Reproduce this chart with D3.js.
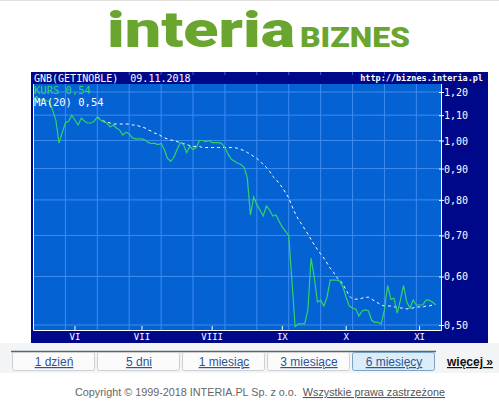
<!DOCTYPE html>
<html>
<head>
<meta charset="utf-8">
<script src="https://cdn.jsdelivr.net/npm/d3@7"></script>
<style>
  body { margin: 0; background: #fff; }
  svg { display: block; }
</style>
</head>
<body>
<div id="chart"></div>
<script>
// trading-day values, 6 months to 09.11.2018
var kurs = [
  1.17, 1.18, 1.16, 1.17, 1.16, 1.16, 1.12, 1.08, 0.99, 1.03,
  1.068, 1.075, 1.10, 1.08, 1.06, 1.088, 1.075, 1.068, 1.068, 1.075,
  1.092, 1.08, 1.072, 1.068, 1.052, 1.06, 1.048, 1.04, 1.021, 1.032,
  1.025, 1.01, 1.006, 1.006, 1.006, 1.002, 0.992, 0.989, 0.989, 0.985,
  0.989, 0.967, 0.935, 0.925, 0.939, 0.967, 0.992, 0.985, 0.956, 0.978,
  0.967, 0.974, 1.0, 1.0, 0.996, 1.0, 0.992, 0.992, 0.992, 0.989,
  0.974, 0.95, 0.932, 0.925, 0.918, 0.914, 0.904, 0.87, 0.756, 0.809,
  0.786, 0.77, 0.753, 0.782, 0.77, 0.753, 0.756, 0.738, 0.722, 0.711,
  0.70, 0.59, 0.497, 0.502, 0.502, 0.502, 0.529, 0.643, 0.598, 0.545,
  0.549, 0.537, 0.555, 0.592, 0.592, 0.592, 0.59, 0.577, 0.555, 0.537,
  0.533, 0.531, 0.517, 0.527, 0.529, 0.527, 0.509, 0.505, 0.505, 0.502,
  0.529, 0.58, 0.551, 0.553, 0.523, 0.549, 0.58, 0.545, 0.533, 0.549,
  0.539, 0.539, 0.539, 0.549, 0.549, 0.545, 0.54
]
var maStart = 20
var ma20 = [
  1.092, 1.084, 1.076, 1.072, 1.068, 1.064, 1.064, 1.064, 1.064, 1.064,
  1.064, 1.06, 1.06, 1.056, 1.052, 1.048, 1.04, 1.036, 1.028, 1.025,
  1.017, 1.010, 1.006, 1.002, 1.0, 0.996, 0.992, 0.989, 0.985, 0.981,
  0.978, 0.978, 0.978, 0.974, 0.974, 0.974, 0.974, 0.974, 0.974, 0.974,
  0.974, 0.974, 0.974, 0.974, 0.971, 0.967, 0.963, 0.956, 0.950, 0.942,
  0.935, 0.925, 0.914, 0.904, 0.891, 0.874, 0.864, 0.851, 0.838, 0.822,
  0.806, 0.782, 0.761, 0.744, 0.731, 0.717, 0.704, 0.689, 0.676, 0.664,
  0.653, 0.643, 0.631, 0.619, 0.610, 0.598, 0.592, 0.583, 0.570, 0.558,
  0.551, 0.551, 0.551, 0.553, 0.555, 0.555, 0.551, 0.547, 0.543, 0.539,
  0.537, 0.537, 0.537, 0.535, 0.535, 0.533, 0.533, 0.531, 0.533, 0.533,
  0.535, 0.535, 0.535, 0.537, 0.537, 0.539, 0.54
]
var monthLabels = ["VI", "VII", "VIII", "IX", "X", "XI"]
var monthIndex = [13, 34, 56, 78, 98, 121]
var yTicks = [0.5, 0.6, 0.7, 0.8, 0.9, 1.0, 1.1, 1.2]
var tabs = ["1 dzień", "5 dni", "1 miesiąc", "3 miesiące", "6 miesięcy"]

var width = 499
var height = 412
var mono = "DejaVu Sans Mono, monospace"
var sans = "Liberation Sans, Arial, sans-serif"

var svg = d3.select("#chart").append("svg")
  .attr("width", width).attr("height", height)

// logo
svg.append("line").attr("x1", 0).attr("x2", width).attr("y1", 0.5).attr("y2", 0.5)
  .attr("stroke", "#e2e2e2")
svg.append("text").attr("x", 107).attr("y", 47)
  .attr("textLength", 188).attr("lengthAdjust", "spacingAndGlyphs")
  .style("font-family", "Roboto, sans-serif").style("font-weight", 900)
  .style("font-size", "50px").style("fill", "#69a52f")
  .text("interia")
svg.append("text").attr("x", 300).attr("y", 47)
  .attr("textLength", 110).attr("lengthAdjust", "spacingAndGlyphs")
  .style("font-family", "Roboto, sans-serif").style("font-weight", 900)
  .style("font-size", "27px").style("fill", "#69a52f")
  .text("BIZNES")

// chart frame
var plot = {left: 33, right: 441, top: 84, bottom: 330}

svg.append("rect").attr("x", 31).attr("y", 72).attr("width", 457).attr("height", 271)
  .attr("fill", "#00088a")
svg.append("rect").attr("x", plot.left).attr("y", plot.top)
  .attr("width", plot.right - plot.left).attr("height", plot.bottom - plot.top)
  .attr("fill", "#0562d2")

var x = d3.scaleLinear().domain([0, 126]).range([33.5, 435.5])
var y = d3.scaleLog().domain([0.5, 1.2]).range([325, 92])

// grid
var gridX = d3.range(10, 126, 10)
svg.append("g").selectAll("line").data(gridX).enter().append("line")
  .attr("x1", function(d) { return x(d) }).attr("x2", function(d) { return x(d) })
  .attr("y1", plot.top).attr("y2", plot.bottom)
  .attr("stroke", "#3d8cf2").attr("stroke-width", 1)
svg.append("g").selectAll("line").data(gridX).enter().append("line")
  .attr("x1", function(d) { return x(d) }).attr("x2", function(d) { return x(d) })
  .attr("y1", 72).attr("y2", 75)
  .attr("stroke", "#3d60d8").attr("stroke-width", 1)
svg.append("g").selectAll("line").data(yTicks).enter().append("line")
  .attr("x1", plot.left).attr("x2", plot.right)
  .attr("y1", function(d) { return y(d) }).attr("y2", function(d) { return y(d) })
  .attr("stroke", "#3d8cf2").attr("stroke-width", 1)

// plot border
svg.append("path")
  .attr("d", "M" + (plot.left + 0.5) + "," + plot.top + "V" + (plot.bottom + 0.5) +
    "H" + (plot.right + 0.5) + "V" + plot.top)
  .attr("fill", "none").attr("stroke", "#ffffff").attr("stroke-width", 1)

// month ticks
svg.append("g").selectAll("line").data(monthIndex).enter().append("line")
  .attr("x1", function(d) { return x(d) }).attr("x2", function(d) { return x(d) })
  .attr("y1", 326).attr("y2", 330)
  .attr("stroke", "#ffffff")
svg.append("g").selectAll("text").data(monthLabels).enter().append("text")
  .attr("x", function(d, i) { return x(monthIndex[i]) })
  .attr("y", 340)
  .attr("text-anchor", "middle")
  .style("font-family", mono).style("font-size", "9px").style("fill", "#ffffff")
  .text(function(d) { return d })

// y ticks on the right
svg.append("g").selectAll("line").data(yTicks).enter().append("line")
  .attr("x1", plot.right - 2).attr("x2", plot.right + 3)
  .attr("y1", function(d) { return y(d) + 0.5 }).attr("y2", function(d) { return y(d) + 0.5 })
  .attr("stroke", "#ffffff")
svg.append("g").selectAll("text").data(yTicks).enter().append("text")
  .attr("x", 444).attr("y", function(d) { return y(d) + 4 })
  .style("font-family", mono).style("font-size", "10px").style("fill", "#ffffff")
  .text(function(d) { return d3.format(".2f")(d).replace(".", ",") })

// lines
var kursLine = d3.line()
  .x(function(d, i) { return x(i) })
  .y(function(d) { return y(d) })
var maLine = d3.line()
  .x(function(d, i) { return x(i + maStart) })
  .y(function(d) { return y(d) })

svg.append("path").datum(ma20).attr("d", maLine)
  .attr("fill", "none").attr("stroke", "#ffffff").attr("stroke-width", 1)
  .attr("stroke-dasharray", "3,3")
svg.append("path").datum(kurs).attr("d", kursLine)
  .attr("fill", "none").attr("stroke", "#2fd36a").attr("stroke-width", 1.2)

// header texts
svg.append("text").attr("x", 34).attr("y", 82)
  .style("font-family", mono).style("font-size", "10px").style("fill", "#ffffff")
  .style("white-space", "pre").attr("xml:space", "preserve")
  .text("GNB(GETINOBLE)  09.11.2018")
svg.append("text").attr("x", 483).attr("y", 81).attr("text-anchor", "end")
  .style("font-family", mono).style("font-size", "8.5px").style("font-weight", "bold")
  .style("fill", "#ffffff")
  .text("http://biznes.interia.pl")
svg.append("text").attr("x", 34).attr("y", 94)
  .style("font-family", mono).style("font-size", "10.5px").style("fill", "#2fd36a")
  .text("KURS " + d3.format(".2f")(kurs[kurs.length - 1]).replace(".", ","))
svg.append("text").attr("x", 34).attr("y", 106)
  .style("font-family", mono).style("font-size", "10.5px").style("fill", "#ffffff")
  .text("MA(20) " + d3.format(".2f")(ma20[ma20.length - 1]).replace(".", ","))

// tabs
svg.append("rect").attr("x", 0).attr("y", 343).attr("width", width).attr("height", 30)
  .attr("fill", "#f3f4f5")
svg.append("line").attr("x1", 11).attr("x2", 436).attr("y1", 351.5).attr("y2", 351.5)
  .attr("stroke", "#566676").attr("stroke-width", 1.5)
var tab = svg.append("g").selectAll("g").data(tabs).enter().append("g")
  .attr("transform", function(d, i) { return "translate(" + (12 + i * 85) + ",352)" })
tab.append("rect").attr("x", 0.5).attr("y", 0.5).attr("width", 82).attr("height", 18).attr("rx", 2)
  .attr("fill", function(d, i) { return i === 4 ? "#dcedf9" : "#fbfbfb" })
  .attr("stroke", function(d, i) { return i === 4 ? "#7aa2c4" : "#cfcfcf" })
tab.append("text").attr("x", 42).attr("y", 14).attr("text-anchor", "middle")
  .style("font-family", sans).style("font-size", "12px")
  .style("fill", "#2c5597").style("text-decoration", "underline")
  .text(function(d) { return d })
svg.append("text").attr("x", 493).attr("y", 366).attr("text-anchor", "end")
  .style("font-family", sans).style("font-size", "12px").style("font-weight", "bold")
  .style("fill", "#111").style("text-decoration", "underline")
  .text("więcej »")

// footer
var foot = svg.append("text").attr("x", 75).attr("y", 396)
  .style("font-family", sans).style("font-size", "10.8px").style("fill", "#666")
  .attr("xml:space", "preserve")
foot.append("tspan").text("Copyright © 1999-2018 INTERIA.PL Sp. z o.o.  ")
foot.append("tspan").style("text-decoration", "underline").style("fill", "#555")
  .text("Wszystkie prawa zastrzeżone")
</script>
</body>
</html>
